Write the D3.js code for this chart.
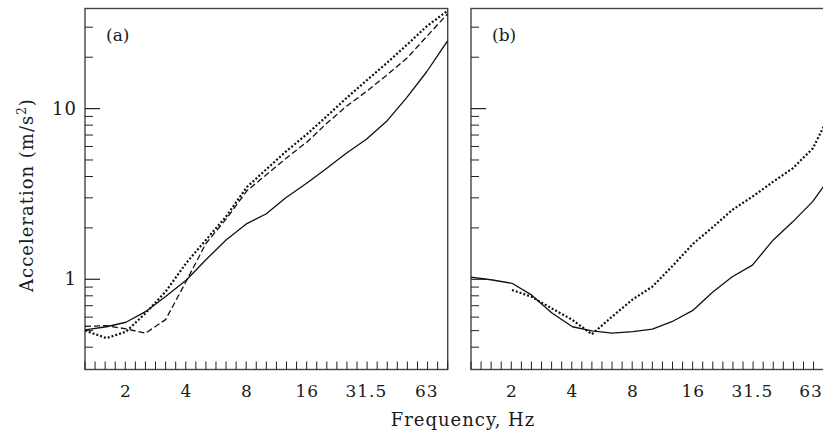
<!DOCTYPE html>
<html>
<head>
<meta charset="utf-8">
<script src="https://cdn.jsdelivr.net/npm/d3@7"></script>
<style>
  html, body { margin: 0; padding: 0; background: #fff; }
  svg { display: block; }
  text { font-family: "DejaVu Serif", serif; fill: #1a1a1a; }
</style>
</head>
<body>
<div id="chart"></div>
<script>
// third-octave band centre frequencies, Hz
const freqs = [1.25, 1.6, 2, 2.5, 3.15, 4, 5, 6.3, 8, 10, 12.5, 16, 20, 25, 31.5, 40, 50, 63, 80];

// panel (a)
const aSolid  = [0.505, 0.527, 0.56, 0.646, 0.793, 0.99, 1.3, 1.7, 2.12, 2.42, 3.0, 3.68, 4.47, 5.47, 6.61, 8.5, 11.6, 16.5, 25.0];
const aDashed = [0.53, 0.535, 0.512, 0.483, 0.58, 0.98, 1.62, 2.25, 3.3, 4.1, 5.1, 6.4, 8.2, 10.3, 12.6, 15.8, 19.7, 26.5, 36.0];
const aDotted = [0.50, 0.452, 0.493, 0.632, 0.846, 1.25, 1.70, 2.33, 3.47, 4.41, 5.6, 7.12, 9.03, 11.5, 14.6, 18.6, 23.6, 30.4, 37.5];

// panel (b)
const bSolid  = [1.03, 0.99, 0.947, 0.81, 0.637, 0.527, 0.498, 0.483, 0.493, 0.51, 0.564, 0.66, 0.843, 1.035, 1.21, 1.70, 2.17, 2.86, 4.25];
const bDotted = [null, null, 0.866, 0.79, 0.676, 0.578, 0.476, 0.604, 0.764, 0.905, 1.185, 1.62, 2.02, 2.55, 3.05, 3.73, 4.47, 5.85, 10.3];

const xLabels = [2, 4, 8, 16, 31.5, 63];
const yMajor = [1, 10];
const yMinor = [0.4, 0.5, 0.6, 0.7, 0.8, 0.9, 2, 3, 4, 5, 6, 7, 8, 9, 20, 30];

const W = 823, H = 432;
const TOP = 8.5, BOTTOM = 369.5, PW = 362.7;

const panels = [
  { left: 85, label: '(a)', labels: true, series: [
    { values: aSolid, dash: null, width: 1.3 },
    { values: aDashed, dash: '6,3', width: 1.3 },
    { values: aDotted, dash: '2,2', width: 2.2 },
  ] },
  { left: 471, label: '(b)', labels: false, series: [
    { values: bSolid, dash: null, width: 1.3 },
    { values: bDotted, dash: '2,2', width: 2.2 },
  ] },
];

const svg = d3.select('#chart').append('svg')
  .attr('width', W)
  .attr('height', H);

const y = d3.scaleLog().domain([0.296, 38.6]).range([BOTTOM, TOP]);
const xMinor = d3.range(0, 37).map(k => 1.25 * Math.pow(2, k / 6));

panels.forEach((p, i) => {
  const x = d3.scaleLog().domain([1.25, 80]).range([p.left, p.left + PW]);
  const g = svg.append('g');

  const clipId = 'clip' + i;
  svg.append('clipPath').attr('id', clipId)
    .append('rect')
    .attr('x', p.left).attr('y', TOP)
    .attr('width', PW).attr('height', BOTTOM - TOP);

  // Frame
  g.append('rect')
    .attr('x', p.left).attr('y', TOP)
    .attr('width', PW).attr('height', BOTTOM - TOP)
    .attr('fill', 'none')
    .attr('stroke', '#444')
    .attr('stroke-width', 1.4);

  // x ticks (inward)
  g.selectAll(null)
    .data(xMinor)
    .enter()
    .append('line')
    .attr('x1', d => x(d)).attr('x2', d => x(d))
    .attr('y1', BOTTOM).attr('y2', BOTTOM - 8)
    .attr('stroke', '#222')
    .attr('stroke-width', 1);

  g.selectAll(null)
    .data(xLabels)
    .enter()
    .append('text')
    .attr('x', d => Math.min(x(d), W - 12))
    .attr('y', 397)
    .attr('text-anchor', 'middle')
    .style('font-size', '17px')
    .style('letter-spacing', '1px')
    .text(d => d);

  // y ticks (inward)
  g.selectAll(null)
    .data(yMinor)
    .enter()
    .append('line')
    .attr('x1', p.left).attr('x2', p.left + 8)
    .attr('y1', d => y(d)).attr('y2', d => y(d))
    .attr('stroke', '#222')
    .attr('stroke-width', 1);

  g.selectAll(null)
    .data(yMajor)
    .enter()
    .append('line')
    .attr('x1', p.left).attr('x2', p.left + 15)
    .attr('y1', d => y(d)).attr('y2', d => y(d))
    .attr('stroke', '#222')
    .attr('stroke-width', 1.2);

  if (p.labels) {
    g.selectAll(null)
      .data(yMajor)
      .enter()
      .append('text')
      .attr('x', p.left - 8)
      .attr('y', d => y(d) + 6)
      .attr('text-anchor', 'end')
      .style('font-size', '18px')
      .style('letter-spacing', '1px')
      .text(d => d);
  }

  // Panel label
  g.append('text')
    .attr('x', p.left + 21)
    .attr('y', 41)
    .style('font-size', '17px')
    .text(p.label);

  // Curves
  const line = d3.line()
    .defined(d => d[1] != null)
    .x(d => x(d[0]))
    .y(d => y(d[1]))
    .curve(d3.curveLinear);

  p.series.forEach(s => {
    g.append('path')
      .datum(freqs.map((f, j) => [f, s.values[j]]))
      .attr('clip-path', `url(#${clipId})`)
      .attr('d', line)
      .attr('fill', 'none')
      .attr('stroke', '#111')
      .attr('stroke-width', s.width)
      .attr('stroke-dasharray', s.dash)
      .attr('stroke-linejoin', 'round');
  });
});

// Axis titles
svg.append('text')
  .attr('x', 463)
  .attr('y', 426)
  .attr('text-anchor', 'middle')
  .style('font-size', '18px')
  .style('letter-spacing', '1px')
  .text('Frequency, Hz');

const yt = svg.append('text')
  .attr('transform', 'translate(33,195) rotate(-90)')
  .attr('text-anchor', 'middle')
  .style('font-size', '18px')
  .style('letter-spacing', '1px');
yt.append('tspan').text('Acceleration (m/s');
yt.append('tspan').attr('dy', -7).style('font-size', '12px').text('2');
yt.append('tspan').attr('dy', 7).text(')');
</script>
</body>
</html>
